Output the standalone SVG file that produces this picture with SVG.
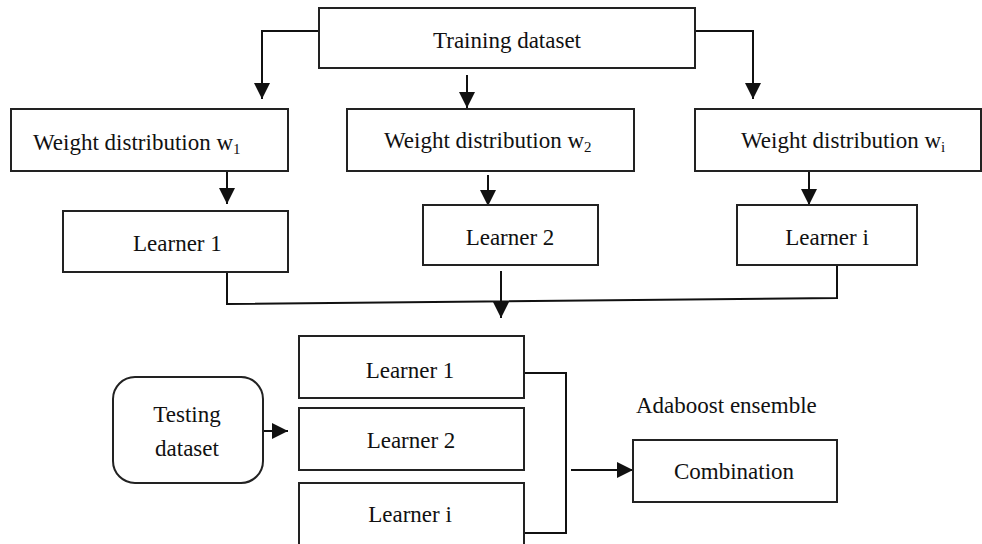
<svg xmlns="http://www.w3.org/2000/svg" width="982" height="544" viewBox="0 0 982 544">
<defs>
<marker id="ah" viewBox="0 0 16 16" refX="16" refY="8" markerWidth="16" markerHeight="16" markerUnits="userSpaceOnUse" orient="auto">
<path d="M0,0 L16,8 L0,16 Z" fill="#111"/>
</marker>
</defs>
<style>
.box{fill:#fff;stroke:#222;stroke-width:2}
.t{font-family:"Liberation Serif","Times New Roman",serif;font-size:23px;fill:#111}
.c{fill:none;stroke:#111;stroke-width:2}
</style>
<rect width="982" height="544" fill="#fff"/>
<g id="connectors">
<polyline class="c" points="319,31 262,31 262,99" marker-end="url(#ah)"/>
<polyline class="c" points="695,31 753,31 753,99" marker-end="url(#ah)"/>
<line class="c" x1="467" y1="75" x2="467" y2="108" marker-end="url(#ah)"/>
<line class="c" x1="227" y1="171" x2="227" y2="204" marker-end="url(#ah)"/>
<line class="c" x1="488" y1="175" x2="488" y2="206" marker-end="url(#ah)"/>
<line class="c" x1="809" y1="171" x2="809" y2="205" marker-end="url(#ah)"/>
<polyline class="c" points="227,272 227,304 837,298 837,265"/>
<line class="c" x1="501" y1="271" x2="501" y2="318" marker-end="url(#ah)"/>
<line class="c" x1="263" y1="431" x2="288" y2="431" marker-end="url(#ah)"/>
<polyline class="c" points="524,373 566,373 566,533 524,533"/>
<line class="c" x1="571" y1="470" x2="633" y2="470" marker-end="url(#ah)"/>
</g>
<g id="training">
<rect class="box" x="319" y="8" width="376" height="60"/>
<text class="t" x="507" y="48" text-anchor="middle">Training dataset</text>
</g>
<g id="w1">
<rect class="box" x="11" y="109" width="277" height="62"/>
<text class="t" x="33" y="150">Weight distribution w<tspan font-size="15" dy="4">1</tspan></text>
</g>
<g id="w2">
<rect class="box" x="347" y="109" width="287" height="62"/>
<text class="t" x="384" y="148">Weight distribution w<tspan font-size="15" dy="4">2</tspan></text>
</g>
<g id="wi">
<rect class="box" x="695" y="109" width="286" height="62"/>
<text class="t" x="741" y="148">Weight distribution w<tspan font-size="15" dy="4">i</tspan></text>
</g>
<g id="learner1">
<rect class="box" x="63" y="211" width="225" height="61"/>
<text class="t" x="133" y="251">Learner  1</text>
</g>
<g id="learner2">
<rect class="box" x="423" y="205" width="175" height="60"/>
<text class="t" x="510" y="245" text-anchor="middle">Learner 2</text>
</g>
<g id="learneri">
<rect class="box" x="737" y="205" width="180" height="60"/>
<text class="t" x="827" y="245" text-anchor="middle">Learner i</text>
</g>
<g id="testing">
<rect class="box" x="113" y="377" width="150" height="106" rx="22"/>
<text class="t" x="187" y="422" text-anchor="middle">Testing</text>
<text class="t" x="187" y="456" text-anchor="middle">dataset</text>
</g>
<g id="tlearner1">
<rect class="box" x="299" y="336" width="225" height="62"/>
<text class="t" x="410" y="378" text-anchor="middle">Learner 1</text>
</g>
<g id="tlearner2">
<rect class="box" x="299" y="408" width="225" height="62"/>
<text class="t" x="411" y="448" text-anchor="middle">Learner 2</text>
</g>
<g id="tlearneri">
<rect class="box" x="299" y="483" width="225" height="64"/>
<text class="t" x="410" y="522" text-anchor="middle">Learner i</text>
</g>
<g id="ensemble-label">
<text class="t" x="636" y="413">Adaboost ensemble</text>
</g>
<g id="combination">
<rect class="box" x="633" y="440" width="204" height="62"/>
<text class="t" x="734" y="479" text-anchor="middle">Combination</text>
</g>
</svg>
